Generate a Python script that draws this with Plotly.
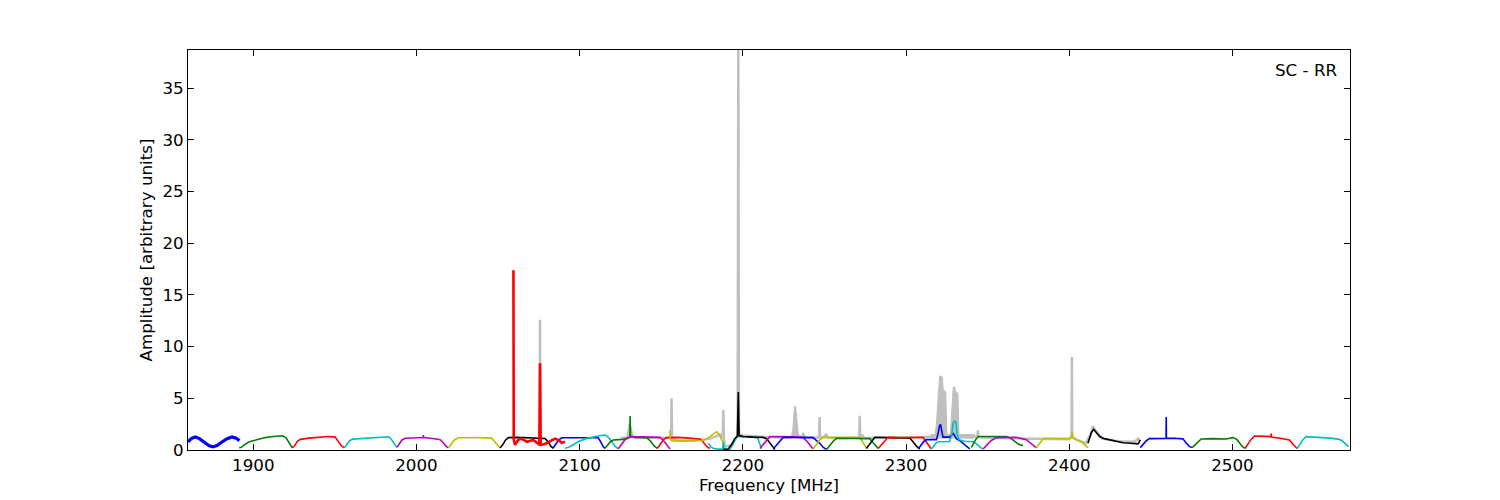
import plotly.graph_objects as go

# ---------------- data (frequency in MHz, amplitude in arbitrary units) ----------------
b01_f = [1860, 1862, 1864.5, 1867, 1870, 1873, 1875.5, 1878, 1881, 1884, 1887, 1889.5, 1891.5]
b01_a = [0.8, 1.1, 1.26, 1.1, 0.75, 0.4, 0.3, 0.45, 0.8, 1.1, 1.26, 1.15, 0.9]
b02_f = [1891.4, 1893, 1895, 1897, 1899.2, 1903, 1907.3, 1912, 1917.8, 1920, 1921.5, 1922.8, 1923.9]
b02_a = [0.2, 0.3, 0.55, 0.75, 0.87, 1.05, 1.2, 1.3, 1.38, 1.2, 0.8, 0.4, 0.2]
b03_f = [1923.9, 1925.5, 1927, 1928.8, 1934, 1942, 1946, 1950.2, 1952, 1953.8, 1955.7]
b03_a = [0.2, 0.45, 0.85, 1.03, 1.15, 1.29, 1.3, 1.25, 0.9, 0.45, 0.2]
b04_f = [1955.7, 1957.2, 1959, 1961, 1966, 1972, 1978, 1983, 1985, 1986.7, 1988]
b04_a = [0.2, 0.5, 0.9, 1.05, 1.1, 1.15, 1.25, 1.28, 0.95, 0.5, 0.25]
b05_f = [1988, 1989.5, 1991, 1993.1, 1998, 2004, 2004.2, 2004.4, 2010, 2014.5, 2016.5, 2018.2, 2019.6]
b05_a = [0.25, 0.55, 0.95, 1.13, 1.15, 1.2, 1.45, 1.2, 1.12, 1.0, 0.7, 0.35, 0.2]
b06_f = [2019.6, 2021.2, 2023, 2025.7, 2030, 2038, 2046.1, 2048, 2049.7, 2051.2]
b06_a = [0.2, 0.5, 0.95, 1.19, 1.2, 1.2, 1.15, 0.8, 0.4, 0.2]
b07_f = [2051.2, 2052.8, 2054.5, 2056.3, 2062, 2070, 2078.8, 2080.8, 2082.4, 2083.9]
b07_a = [0.2, 0.5, 0.95, 1.2, 1.22, 1.2, 1.12, 0.75, 0.35, 0.15]
b08_f = [2059.4, 2059.6, 2060.4, 2062, 2063.5, 2065.5, 2067.6, 2069.5, 2071.6, 2073.5, 2075.3,
         2075.7, 2076.1, 2078, 2079.8, 2082.5, 2085, 2087, 2089, 2091]
b08_a = [17.4, 1.0, 0.5, 0.9, 1.1, 1.0, 0.8, 0.85, 0.97, 0.75, 0.5,
         8.4, 0.5, 0.55, 0.65, 0.9, 1.1, 0.95, 0.7, 0.8]
b09_f = [2083.7, 2085.2, 2087, 2089, 2095, 2103, 2111.4, 2113, 2114.3, 2115.5]
b09_a = [0.2, 0.5, 0.95, 1.18, 1.2, 1.2, 1.19, 0.75, 0.35, 0.15]
b10_f = [2091, 2094, 2097, 2100, 2104, 2108.4, 2112, 2115.5, 2117.5, 2119.6, 2121.8, 2123.7]
b10_a = [0.16, 0.32, 0.6, 0.87, 1.1, 1.29, 1.38, 1.45, 1.25, 0.8, 0.35, 0.12]
b11_f = [2115.5, 2117, 2118.8, 2120.6, 2126.6, 2130.7, 2130.9, 2131.1, 2134, 2141, 2143.5, 2145.6, 2147.6]
b11_a = [0.18, 0.45, 0.8, 0.97, 1.03, 1.2, 3.3, 1.3, 1.22, 1.2, 0.85, 0.4, 0.15]
b12_f = [2123.7, 2125.5, 2127.5, 2130.9, 2138, 2145, 2149.2, 2151.5, 2153.5, 2155.3]
b12_a = [0.12, 0.5, 0.95, 1.29, 1.27, 1.25, 1.22, 0.9, 0.45, 0.1]
b13_f = [2147.6, 2149.3, 2151.3, 2153.3, 2160, 2167, 2173.7, 2175.8, 2177.8, 2179.8]
b13_a = [0.15, 0.55, 1.0, 1.2, 1.22, 1.15, 1.06, 0.75, 0.35, 0.15]
b14_f = [2155.3, 2155.5, 2157, 2162, 2170, 2175.7, 2178.5, 2181.5, 2183.9, 2185.5, 2187, 2188.2]
b14_a = [1.93, 1.0, 0.87, 0.87, 0.87, 0.92, 1.15, 1.45, 1.77, 1.5, 0.97, 0.75]
b15_f = [2178.8, 2180.5, 2181.8, 2184, 2187.5, 2188, 2188.5, 2192, 2194, 2196.2, 2200, 2205, 2209, 2210.3, 2211.4]
b15_a = [0.65, 0.3, 0.16, 0.08, 0.08, 0.8, 0.08, 0.05, 0.6, 1.29, 1.3, 1.28, 1.2, 0.6, 0.15]
b16_f = [2188, 2191, 2193, 2195, 2196.6, 2197.2, 2197.7, 2200, 2206, 2212.4, 2214.5, 2216.5, 2218.2, 2219.6]
b16_a = [0.05, 0.1, 0.5, 1.1, 1.33, 5.6, 1.4, 1.3, 1.25, 1.22, 1.1, 0.65, 0.25, 0.05]
b17_f = [2210.4, 2212, 2214, 2216.5, 2224, 2231, 2237, 2239.5, 2241.5, 2243]
b17_a = [0.15, 0.45, 0.9, 1.29, 1.3, 1.28, 1.2, 0.8, 0.35, 0.1]
b18_f = [2218.6, 2220.5, 2222.5, 2224.7, 2232, 2238, 2243, 2247.1, 2249.3, 2251.3]
b18_a = [0.1, 0.45, 0.9, 1.23, 1.22, 1.18, 1.2, 0.65, 0.25, 0.05]
b19_f = [2243, 2245, 2247, 2249.2, 2257, 2265, 2271.7, 2273.3, 2274.6, 2275.7]
b19_a = [0.1, 0.5, 0.95, 1.23, 1.22, 1.2, 1.2, 0.8, 0.4, 0.15]
b20_f = [2251.3, 2253.3, 2255.3, 2257.4, 2265, 2272, 2277.8, 2279.8, 2281.5, 2282.9]
b20_a = [0.05, 0.45, 0.85, 1.13, 1.12, 1.15, 1.1, 0.7, 0.35, 0.15]
b21_f = [2275.7, 2277.5, 2279, 2280.8, 2290, 2296, 2302.3, 2304.5, 2306.5, 2308.4]
b21_a = [0.15, 0.55, 0.95, 1.23, 1.2, 1.2, 1.16, 0.75, 0.35, 0.1]
b22_f = [2282.9, 2284.8, 2286.8, 2289, 2296, 2303, 2310.4, 2312.3, 2314, 2315.5]
b22_a = [0.15, 0.5, 0.9, 1.23, 1.2, 1.22, 1.23, 0.8, 0.4, 0.1]
b23_f = [2307.4, 2309.5, 2311, 2312.5, 2316, 2318.6, 2319.6, 2320.4, 2321.1, 2321.8, 2322.6, 2326.7,
         2328, 2328.8, 2329.7, 2330.8, 2332.9, 2335.5, 2337.5, 2339]
b23_a = [0.1, 0.5, 0.85, 1.0, 1.0, 1.0, 1.6, 2.3, 2.48, 2.0, 1.25, 1.25,
         1.45, 1.6, 1.4, 1.1, 0.9, 0.55, 0.25, 0.1]
b24_f = [2315.5, 2317.2, 2318.5, 2319.6, 2323, 2326.7, 2328, 2328.8, 2329.8, 2330.6, 2331.3, 2332.5,
         2336, 2341, 2343.5, 2345.5, 2347.2]
b24_a = [0.1, 0.45, 0.7, 0.8, 0.8, 0.82, 1.5, 2.6, 2.8, 2.7, 1.5, 1.0,
         0.85, 0.8, 0.55, 0.25, 0.1]
b25_f = [2340, 2341.5, 2342.8, 2344.3, 2352, 2361.5, 2364, 2366.6, 2369, 2371.7]
b25_a = [0.25, 0.65, 1.05, 1.3, 1.32, 1.3, 1.15, 0.8, 0.55, 0.4]
b26_f = [2347.2, 2349.5, 2352, 2355.3, 2362, 2367.6, 2373.7, 2376.5, 2378.5, 2379.8]
b26_a = [0.1, 0.5, 0.9, 1.2, 1.23, 1.23, 1.0, 0.6, 0.3, 0.2]
b27_f = [2379.8, 2381.5, 2383.3, 2385, 2392, 2400.3, 2401.4, 2401.7, 2402.1, 2403, 2405, 2407.4, 2409.5, 2411.4]
b27_a = [0.2, 0.6, 0.95, 1.13, 1.1, 1.1, 1.3, 1.77, 1.2, 1.05, 0.95, 0.8, 0.5, 0.2]
b28_f = [2411.4, 2412.6, 2413.6, 2414.9, 2416.5, 2418.6, 2421.5, 2424.7, 2428.5, 2432.9, 2437.5, 2442.1, 2442.8, 2443.5]
b28_a = [0.65, 1.2, 1.7, 2.0, 1.7, 1.3, 1.1, 0.97, 0.82, 0.7, 0.65, 0.6, 0.75, 0.97]
b29_f = [2443.5, 2445.3, 2447.2, 2449.2, 2455, 2459.3, 2459.4, 2459.5, 2464, 2469.6, 2471.5, 2473.5, 2475.3]
b29_a = [0.23, 0.55, 0.9, 1.1, 1.12, 1.12, 3.2, 1.12, 1.13, 1.08, 0.7, 0.35, 0.23]
b30_f = [2475.3, 2477.2, 2479, 2480.8, 2488, 2496.1, 2500.2, 2502.5, 2504.5, 2506, 2507.6]
b30_a = [0.23, 0.55, 0.85, 1.06, 1.1, 1.07, 1.2, 1.05, 0.65, 0.35, 0.15]
b31_f = [2507.6, 2509.3, 2511.3, 2513.5, 2518, 2523.5, 2523.7, 2523.9, 2529, 2534.9, 2536.8, 2538.3, 2539.6]
b31_a = [0.15, 0.55, 1.0, 1.35, 1.33, 1.3, 1.6, 1.25, 1.13, 0.97, 0.6, 0.3, 0.15]
b32_f = [2539.6, 2541.3, 2543.2, 2545.1, 2553.2, 2560, 2565.5, 2567.5, 2569.5, 2571]
b32_a = [0.15, 0.55, 1.0, 1.29, 1.23, 1.15, 1.03, 0.85, 0.55, 0.32]

# raw (grey) spectrum: narrow spikes and baseline
raw_f = [2075.5, 2075.7, 2075.9, None,
         2125, 2129, 2130.2, 2130.6, 2131.0, 2131.5, 2132.3, 2134, 2140, 2150,
         2156.0, 2156.3, 2156.6, 2160, 2170, 2180, 2186, 2187.6, 2188.0, 2188.4, 2189, 2193,
         2196.8, 2197.2, 2197.6, 2200, 2205, 2210, 2215, 2220, 2228,
         2236.5, 2237, 2237.5, 2240, 2246.7, 2247, 2247.3, 2250, 2251, 2252, 2260,
         2271.3, 2271.6, 2271.9, 2273, 2274, 2280, 2290, 2300, 2310, 2315, 2318, 2325, 2333, 2340,
         2343.7, 2344, 2344.3, 2346, 2355, 2370, 2385, 2400, 2401.4, 2401.6, 2401.8, 2405, 2410,
         2413, 2414.5, 2416, 2420, 2430, 2440, 2441.5, 2442, 2443]
raw_a = [0.6, 12.6, 0.6, None,
         1.15, 1.2, 2.0, 2.5, 2.3, 1.8, 1.3, 1.15, 1.15, 1.15,
         1.2, 5.0, 1.1, 0.9, 0.9, 1.1, 1.5, 1.2, 3.9, 1.0, 0.3, 0.5,
         1.4, 38.7, 1.5, 1.4, 1.35, 1.3, 1.2, 1.2, 1.2,
         1.3, 1.65, 1.3, 1.2, 1.2, 3.2, 1.2, 1.3, 1.55, 1.2, 1.15,
         1.2, 3.3, 1.2, 1.5, 1.15, 1.15, 1.15, 1.15, 1.2, 1.3, 1.35, 1.35, 1.3, 1.25,
         1.3, 1.9, 1.3, 1.2, 1.15, 1.1, 1.05, 1.05, 1.3, 9.0, 1.3, 0.95, 0.65,
         1.5, 2.3, 1.9, 1.1, 0.85, 0.8, 1.0, 1.1, 0.9]

# broad RFI bumps of the raw spectrum (outlines)
bump_f = [2229.6, 2230.6, 2231.3, 2231.8, 2232.4, 2233.0, 2233.8, 2234.6, None,
          2315.0, 2342.0, 2342.0, 2315.0, None,
          2317.6, 2318.6, 2319.4, 2320.0, 2320.5, 2321.5, 2322.3, 2322.7, 2323.3, 2324.3, 2325.1, None,
          2327.0, 2327.7, 2328.4, 2328.9, 2329.8, 2330.3, 2331.0, 2331.8, 2332.4]
bump_a = [1.2, 2.0, 3.6, 4.25, 4.1, 3.0, 1.8, 1.2, None,
          1.15, 1.15, 1.5, 1.5, None,
          1.2, 2.5, 4.5, 6.5, 7.15, 7.15, 7.0, 5.8, 5.8, 5.6, 1.2, None,
          1.2, 3.0, 5.5, 6.1, 6.1, 5.6, 5.6, 5.4, 1.2]

x_ticks = [1900, 2000, 2100, 2200, 2300, 2400, 2500]
y_ticks = [0, 5, 10, 15, 20, 25, 30, 35]
x_range = [1860, 2572]
y_range = [0, 38.7]
panel_label = "SC - RR"

# ---------------- styles ----------------
C = {"b": "#0000ff", "g": "#008000", "r": "#ff0000", "c": "#00bfbf",
     "m": "#bf00bf", "y": "#bfbf00", "k": "#000000"}
bands = [
    (b01_f, b01_a, "b", 3.2), (b02_f, b02_a, "g", 1.6), (b03_f, b03_a, "r", 1.6),
    (b04_f, b04_a, "c", 1.6), (b05_f, b05_a, "m", 1.6), (b06_f, b06_a, "y", 1.6),
    (b07_f, b07_a, "k", 1.6), (b09_f, b09_a, "b", 1.6), (b10_f, b10_a, "c", 1.6),
    (b08_f, b08_a, "r", 2.6),
    (b11_f, b11_a, "g", 1.6), (b12_f, b12_a, "m", 1.6), (b13_f, b13_a, "r", 1.6),
    (b14_f, b14_a, "y", 1.6), (b15_f, b15_a, "c", 1.6), (b16_f, b16_a, "k", 1.6),
    (b17_f, b17_a, "m", 1.6), (b18_f, b18_a, "b", 1.6), (b19_f, b19_a, "y", 1.6),
    (b20_f, b20_a, "g", 1.6), (b21_f, b21_a, "k", 1.6), (b22_f, b22_a, "r", 1.6),
    (b23_f, b23_a, "b", 1.6), (b24_f, b24_a, "c", 1.6), (b25_f, b25_a, "g", 1.6),
    (b26_f, b26_a, "m", 1.6), (b27_f, b27_a, "y", 1.6), (b28_f, b28_a, "k", 1.6),
    (b29_f, b29_a, "b", 1.6), (b30_f, b30_a, "g", 1.6), (b31_f, b31_a, "r", 1.6),
    (b32_f, b32_a, "c", 1.6),
]

fig = go.Figure()
GREY = "#bfbfbf"
fig.add_trace(go.Scatter(x=bump_f, y=bump_a, mode="lines", fill="toself", fillcolor=GREY,
                         line=dict(color=GREY, width=1), hoverinfo="skip", showlegend=False))
fig.add_trace(go.Scatter(x=raw_f, y=raw_a, mode="lines", line=dict(color=GREY, width=2.5),
                         connectgaps=False, showlegend=False))
for f, a, col, w in bands:
    fig.add_trace(go.Scatter(x=f, y=a, mode="lines", line=dict(color=C[col], width=w),
                             showlegend=False))

FONT = "DejaVu Sans, Liberation Sans, sans-serif"
FS = 16.7
axis_common = dict(showline=True, linecolor="black", linewidth=1, mirror="ticks",
                   ticks="inside", ticklen=6, tickwidth=1, tickcolor="black",
                   showgrid=False, zeroline=False, automargin=False,
                   tickfont=dict(family=FONT, size=FS, color="black"))
fig.update_xaxes(range=x_range, tickvals=x_ticks, ticktext=[str(v) for v in x_ticks],
                 title=dict(text="Frequency [MHz]", font=dict(family=FONT, size=FS, color="black"),
                            standoff=5),
                 **axis_common)
fig.update_yaxes(range=y_range, tickvals=y_ticks, ticktext=[str(v) for v in y_ticks],
                 title=dict(text="Amplitude [arbitrary units]",
                            font=dict(family=FONT, size=FS, color="black"), standoff=5),
                 **axis_common)
fig.add_annotation(text=panel_label, xref="paper", yref="paper", x=1, y=1,
                   xanchor="right", yanchor="top", xshift=-11, yshift=-8, showarrow=False,
                   font=dict(family=FONT, size=FS, color="black"))
fig.update_layout(width=1500, height=500, plot_bgcolor="white", paper_bgcolor="white",
                  margin=dict(l=188, r=150, t=50, b=50), showlegend=False,
                  font=dict(family=FONT, size=FS, color="black"))
fig.write_html("out.html", config={"displayModeBar": False},
               post_script="document.body.style.margin='0';document.body.style.overflow='hidden';")
